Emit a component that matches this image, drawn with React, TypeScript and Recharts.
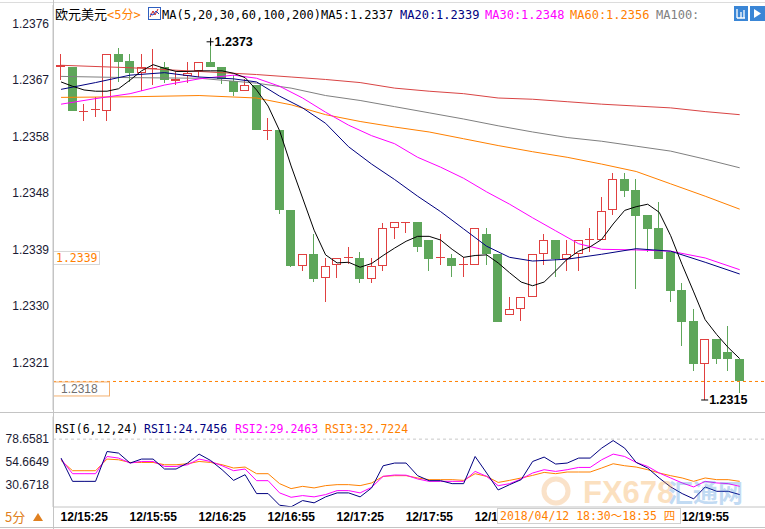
import React from "react";
import { ComposedChart, Bar, Line, XAxis, YAxis, ReferenceLine, ReferenceDot } from "recharts";

// 5-minute EUR/USD candles, 15:15 .. 20:10
const openP = [
  1.2369, 1.2369, 1.23617, 1.2362, 1.23618, 1.2371, 1.23699, 1.2368, 1.23686, 1.23689,
  1.23667, 1.23675, 1.23682, 1.23698, 1.2369, 1.23666, 1.2365, 1.2366, 1.23587, 1.23588,
  1.23457, 1.23367, 1.23387, 1.23347, 1.23369, 1.2338, 1.2338, 1.23346, 1.23367, 1.23428,
  1.23438, 1.23438, 1.23409, 1.2338, 1.2338, 1.23369, 1.23369, 1.23419, 1.23387, 1.23288,
  1.23298, 1.23317, 1.23387, 1.23409, 1.23378, 1.23387, 1.23409, 1.23409, 1.23457, 1.23508,
  1.2349, 1.2345, 1.23428, 1.23389, 1.23328, 1.23278, 1.23208, 1.23248, 1.23227, 1.23217,
];
const closeP = [
  1.23692, 1.23618, 1.23618, 1.23622, 1.2371, 1.23698, 1.23679, 1.23689, 1.23688, 1.23668,
  1.23669, 1.2368, 1.23698, 1.23689, 1.2367, 1.23649, 1.2366, 1.23587, 1.23588, 1.23457,
  1.23367, 1.23387, 1.23346, 1.23367, 1.2338, 1.23381, 1.23346, 1.23367, 1.23428, 1.23438,
  1.23439, 1.23398, 1.23378, 1.23381, 1.23367, 1.2337, 1.23428, 1.23387, 1.23277, 1.23298,
  1.23317, 1.23387, 1.23409, 1.23378, 1.23387, 1.23409, 1.2341, 1.23456, 1.23508, 1.23488,
  1.23448, 1.23427, 1.23378, 1.23327, 1.23277, 1.23208, 1.23248, 1.23217, 1.23217, 1.2318,
];
const highP = [
  1.2371, 1.2369, 1.2363, 1.2364, 1.2371, 1.2372, 1.2371, 1.2371, 1.23719, 1.23698,
  1.23681, 1.23698, 1.23698, 1.2373, 1.2369, 1.23677, 1.23669, 1.2366, 1.23606, 1.23588,
  1.23457, 1.23387, 1.23419, 1.2338, 1.2338, 1.23398, 1.23389, 1.2338, 1.23437, 1.23438,
  1.23439, 1.23438, 1.23409, 1.23419, 1.23387, 1.23381, 1.23428, 1.23428, 1.23387, 1.23317,
  1.23317, 1.23387, 1.23419, 1.23409, 1.23409, 1.23409, 1.23428, 1.23478, 1.23518, 1.23518,
  1.23508, 1.2345, 1.2347, 1.23389, 1.23339, 1.23298, 1.23248, 1.23248, 1.2327, 1.23217,
];
const lowP = [
  1.23668, 1.23618, 1.23602, 1.23609, 1.23601, 1.23665, 1.23665, 1.2365, 1.2366, 1.23663,
  1.2366, 1.23663, 1.23673, 1.23689, 1.23662, 1.23642, 1.2365, 1.23587, 1.23571, 1.23451,
  1.23366, 1.23359, 1.23341, 1.23309, 1.23347, 1.23371, 1.2334, 1.2334, 1.23359, 1.2341,
  1.2342, 1.23389, 1.23359, 1.23369, 1.23349, 1.23349, 1.23369, 1.23369, 1.23277, 1.23288,
  1.23278, 1.23317, 1.23369, 1.23349, 1.23359, 1.23359, 1.2339, 1.23409, 1.2345, 1.23479,
  1.23329, 1.23389, 1.23378, 1.23309, 1.23238, 1.23197, 1.2315, 1.23208, 1.23197, 1.23161,
];

const ma5 = [
  1.23665, 1.23658, 1.23652, 1.2365, 1.2365, 1.23654, 1.23668, 1.23683, 1.23693, 1.23687,
  1.23682, 1.23682, 1.23683, 1.23683, 1.23683, 1.23679, 1.23672, 1.23652, 1.23626, 1.23586,
  1.23529, 1.23477, 1.23425, 1.23385, 1.23372, 1.23373, 1.23365, 1.23371, 1.23384, 1.23396,
  1.23407, 1.23415, 1.23415, 1.23409, 1.23394, 1.23381, 1.23384, 1.23385, 1.23372, 1.23356,
  1.23341, 1.23335, 1.23341, 1.23359, 1.23378, 1.23391, 1.23398, 1.2341, 1.23435, 1.23457,
  1.23463, 1.23467, 1.23454, 1.23416, 1.23369, 1.23325, 1.2328, 1.23256, 1.23235, 1.23217,
];
// slower averages read at a few candles: [index, value]
const ma20Pts = [
  [0, 1.23653], [3, 1.23664], [6, 1.23676], [9, 1.2368], [12, 1.23673], [15, 1.2367], [17, 1.23665],
  [19, 1.23642], [21, 1.23623], [23, 1.23598], [25, 1.2356], [27, 1.23532], [29, 1.23507], [31, 1.2348],
  [33, 1.23455], [35, 1.23427], [37, 1.23399], [39, 1.23381], [41, 1.23375], [44, 1.23378], [47, 1.23386],
  [50, 1.23395], [53, 1.23391], [56, 1.23373], [59, 1.23354],
];
const ma30Pts = [
  [0, 1.23629], [3, 1.23638], [6, 1.23646], [9, 1.2366], [12, 1.2367], [15, 1.23676], [17, 1.23671],
  [19, 1.23658], [21, 1.23639], [23, 1.23616], [25, 1.23595], [27, 1.23578], [29, 1.23565], [31, 1.23543],
  [33, 1.23527], [35, 1.23509], [37, 1.23487], [39, 1.23467], [41, 1.23445], [43, 1.23424], [45, 1.23403],
  [47, 1.23394], [50, 1.23393], [53, 1.23391], [56, 1.2338], [59, 1.23361],
];
const ma60Pts = [
  [0, 1.2364], [6, 1.23641], [12, 1.23643], [17, 1.23639], [20, 1.23628], [23, 1.23612], [26, 1.23601],
  [29, 1.23592], [32, 1.23584], [35, 1.23573], [38, 1.23562], [41, 1.23552], [44, 1.23543], [47, 1.23532],
  [50, 1.2352], [53, 1.235], [56, 1.2348], [59, 1.23459],
];
const ma100Pts = [
  [0, 1.23674], [6, 1.23672], [12, 1.23671], [17, 1.23663], [20, 1.23655], [23, 1.23643], [26, 1.23635],
  [29, 1.23625], [32, 1.23615], [35, 1.23605], [38, 1.23594], [41, 1.23584], [44, 1.23575], [47, 1.23569],
  [50, 1.23561], [53, 1.23553], [56, 1.2354], [59, 1.23526],
];
const ma200Pts = [
  [0, 1.23692], [6, 1.23688], [12, 1.23682], [17, 1.23677], [20, 1.23673], [23, 1.23669], [26, 1.23664],
  [29, 1.23655], [32, 1.2365], [35, 1.23646], [38, 1.23639], [41, 1.23637], [44, 1.23633], [47, 1.23629],
  [50, 1.23626], [53, 1.23623], [56, 1.23617], [59, 1.23612],
];

const rsi1 = [
  58.56, 33.87, 33.87, 33.87, 65.52, 63.83, 53.28, 57.5, 57.5, 46.95,
  46.95, 53.28, 62.78, 56.03, 46.22, 34.93, 40.94, 20.9, 20.9, 8.56,
  6.87, 13.5, 11.09, 17.42, 21.64, 21.64, 17.42, 26.9, 50.4, 53.28,
  53.28, 39.9, 34.6, 34.6, 31.45, 31.45, 60.24, 42.73, 24.75, 30.4,
  35.67, 54.97, 59.61, 52.23, 53.28, 58.56, 58.56, 69.11, 77.12, 69.11,
  53.92, 48.01, 37.46, 27.97, 20.9, 15.31, 27.97, 23.33, 23.33, 19.84,
];
const rsi2 = [
  57.5, 41.99, 41.99, 41.99, 60.24, 58.56, 53.28, 54.97, 54.97, 49.69,
  49.69, 51.49, 57.5, 54.97, 50.43, 45.16, 46.95, 34.61, 34.61, 21.64,
  16.99, 18.79, 17.42, 19.84, 24.06, 24.06, 21.64, 27.54, 39.15, 40.63,
  40.41, 36.4, 33.87, 33.87, 33.87, 33.87, 44.42, 39.15, 29.25, 31.45,
  36.4, 42.73, 46.22, 44.42, 46.22, 48.64, 48.64, 56.76, 62.78, 60.24,
  53.92, 49.69, 42.73, 37.46, 32.19, 27.97, 33.87, 32.19, 31.45, 28.6,
];
const rsi3 = [
  56.03, 45.16, 45.16, 45.16, 57.5, 56.76, 53.92, 53.92, 53.92, 51.49,
  51.49, 52.54, 54.97, 53.92, 51.49, 48.01, 49.06, 41.99, 41.99, 31.45,
  26.17, 28.6, 26.91, 29.34, 30.39, 30.39, 29.34, 32.19, 39.15, 39.89,
  39.89, 37.46, 35.67, 35.67, 35.67, 34.93, 41.99, 39.15, 32.72, 34.93,
  37.46, 40.2, 43.37, 41.99, 43.79, 43.79, 43.79, 48.01, 52.54, 50.43,
  49.06, 46.22, 42.73, 39.89, 37.46, 33.87, 37.46, 35.67, 35.67, 33.87,
];

const timeTicks = [2, 8, 14, 20, 26, 32, 38, 44, 50, 56];
const timeLabels = [
  "12/15:25", "12/15:55", "12/16:25", "12/16:55", "12/17:25",
  "12/17:55", "12/18:25", "12/18:55", "12/19:25", "12/19:55",
];
// labels the hover box sits on: what is still visible of each
const coveredLabels: Record<string, string> = { "12/18:25": "12/1", "12/18:55": "", "12/19:25": "" };
const priceTicks = [1.2376, 1.23668, 1.23577, 1.23485, 1.23393, 1.23302, 1.2321];
const priceLabels = ["1.2376", "1.2367", "1.2358", "1.2348", "1.2339", "1.2330", "1.2321"];
const rsiTicks = [30.6718, 54.6649, 78.6581];

const lastPrice = 1.2318;
const crossPrice = 1.2338;
const maxMark = { i: 13, v: 1.2373, label: "1.2373" };
const minMark = { i: 56, v: 1.2315, label: "1.2315" };

const RED = "#e04040";
const GREEN = "#5ea65a";
const NAVY = "#000080";
const MAGENTA = "#ff00ff";
const ORANGE = "#ff8000";
const GRAY = "#808080";
const MA200C = "#d94444";
const AXIS = "#c4c4c4";
const MONO = "'DejaVu Sans Mono', 'Noto Sans CJK SC', monospace";
const SANS = "'Liberation Sans', Arial, sans-serif";

const spread = (pts: number[][]) => {
  const arr: (number | null)[] = openP.map(() => null);
  pts.forEach(([k, v]) => (arr[k] = v));
  return arr;
};
const ma20 = spread(ma20Pts);
const ma30 = spread(ma30Pts);
const ma60 = spread(ma60Pts);
const ma100 = spread(ma100Pts);
const ma200 = spread(ma200Pts);

const rows = openP.map((o, i) => ({
  i,
  open: o,
  close: closeP[i],
  high: highP[i],
  low: lowP[i],
  ma5: ma5[i],
  ma20: ma20[i],
  ma30: ma30[i],
  ma60: ma60[i],
  ma100: ma100[i],
  ma200: ma200[i],
  rsi1: rsi1[i],
  rsi2: rsi2[i],
  rsi3: rsi3[i],
}));

const X_DOMAIN: [number, number] = [-0.7, 61.2];

function Candle(props: any) {
  const { x, y, width, height, payload } = props;
  if (x == null || y == null || !payload) return null;
  const top = Math.min(y, y + height);
  const h = Math.abs(height);
  const { open, close, high, low } = payload;
  const span = high - low || 1e-9;
  const py = (v: number) => top + ((high - v) / span) * h;
  const left = Math.round(x);
  const w = Math.round(width);
  const cx = left + Math.floor(w / 2) + 0.5;
  const up = close >= open;
  const bTop = Math.round(py(Math.max(open, close)));
  const bBot = Math.round(py(Math.min(open, close)));
  const yH = Math.round(py(high));
  const yL = Math.round(py(low));
  const color = up ? RED : GREEN;
  if (bBot - bTop < 2) {
    return (
      <g>
        <line x1={cx} x2={cx} y1={yH} y2={yL} stroke={color} strokeWidth={1} />
        <line x1={left} x2={left + w} y1={bTop + 0.5} y2={bTop + 0.5} stroke={color} strokeWidth={1} />
      </g>
    );
  }
  return (
    <g>
      <line x1={cx} x2={cx} y1={yH} y2={bTop} stroke={color} strokeWidth={1} />
      <line x1={cx} x2={cx} y1={bBot} y2={yL} stroke={color} strokeWidth={1} />
      {up ? (
        <rect x={left + 0.5} y={bTop + 0.5} width={w - 1} height={bBot - bTop - 1} fill="#fff" stroke={color} strokeWidth={1} />
      ) : (
        <rect x={left} y={bTop} width={w} height={bBot - bTop} fill={color} />
      )}
    </g>
  );
}

const markShape = (label: string, below: boolean) => (p: any) => {
  const { cx, cy } = p;
  return (
    <g>
      <line x1={cx - 4} x2={cx + 3} y1={cy} y2={cy} stroke="#000" strokeWidth={1} />
      {!below && <line x1={cx} x2={cx} y1={cy - 4} y2={cy + 4} stroke="#000" strokeWidth={1} />}
      <text x={cx + 4} y={cy + 4.5} fontFamily={SANS} fontSize={12.5} fontWeight="bold" fill="#000">
        {label}
      </text>
    </g>
  );
};

function Header() {
  return (
    <g>
      <text x={55} y={19} fontFamily="'Noto Sans CJK SC', sans-serif" fontSize={13} fill="#000">欧元美元</text>
      <text x={107} y={19} fontFamily={MONO} fontSize={12} fill={ORANGE}>{"<5分>"}</text>
      <rect x={148.5} y={7.5} width={12} height={12} fill="#fff" stroke="#2f5fc0" />
      <polyline points="150,17 153,11 155,15 158,9" fill="none" stroke="#d02020" strokeWidth={1} />
      <polyline points="150,14 153,15 156,11 159,14" fill="none" stroke="#2040c0" strokeWidth={1} />
      <text y={19} fontFamily={MONO} fontSize={12}>
        <tspan x={162} fill="#000">MA(5,20,30,60,100,200)</tspan>
        <tspan x={321} fill="#000">MA5:1.2337</tspan>
        <tspan x={400} fill={NAVY}>MA20:1.2339</tspan>
        <tspan x={485} fill={MAGENTA}>MA30:1.2348</tspan>
        <tspan x={570} fill={ORANGE}>MA60:1.2356</tspan>
        <tspan x={656} fill={GRAY}>MA100:</tspan>
      </text>
      <rect x={734} y={6} width={14} height={15} fill="#3a86d6" />
      <path d="M737 9 v9 M737 18 h8 M741 12 v6 M744 10 v8" stroke="#fff" strokeWidth={1.3} />
      <rect x={750} y={6} width={15} height={15} fill="#3a86d6" />
      <path d="M754 9 l7 4.5 l-7 4.5 z" fill="#fff" />
    </g>
  );
}

const timeTickText = (v: number) => {
  const full = timeLabels[timeTicks.indexOf(v)] ?? "";
  return full in coveredLabels ? coveredLabels[full] : full;
};

function TimeTick(props: any) {
  const { x, y, payload } = props;
  const text = timeTickText(payload.value);
  if (!text) return null;
  const full = timeLabels[timeTicks.indexOf(payload.value)] ?? "";
  return (
    <text x={x} y={y} dy="0.71em" textAnchor="start" dx={-23.5} fontFamily={SANS} fontSize={12} fontWeight="bold" fill="#000">
      {text === full ? full : text}
    </text>
  );
}

export default function App() {
  return (
    <div style={{ position: "absolute", left: 0, top: 0, width: 765, height: 529, background: "#fff", overflow: "hidden" }}>
      <div style={{ position: "absolute", left: 0, top: 0 }}>
        <ComposedChart width={765} height={413} data={rows} margin={{ top: 5, right: 0, bottom: 3, left: 0 }}>
          <XAxis dataKey="i" type="number" domain={X_DOMAIN} allowDataOverflow hide />
          <YAxis
            type="number"
            domain={[1.231338, 1.237896]}
            allowDataOverflow
            ticks={priceTicks}
            interval={0}
            width={53}
            axisLine={{ stroke: AXIS }}
            tickLine={false}
            tickSize={0}
            tickMargin={4}
            tick={{ fontFamily: SANS, fontSize: 12, fill: "#1a1a33" }}
            tickFormatter={(v: number) => priceLabels[priceTicks.indexOf(v)] ?? ""}
          />
          <ReferenceLine y={lastPrice} stroke={ORANGE} strokeDasharray="3 3" />
          <Bar
            dataKey={(d: any) => [d.low, d.high]}
            barSize={9}
            isAnimationActive={false}
            shape={(p: any) => <Candle {...p} />}
          />
          <Line dataKey="ma200" stroke={MA200C} dot={false} strokeWidth={1} connectNulls isAnimationActive={false} />
          <Line dataKey="ma100" stroke={GRAY} dot={false} strokeWidth={1} connectNulls isAnimationActive={false} />
          <Line dataKey="ma60" stroke={ORANGE} dot={false} strokeWidth={1} connectNulls isAnimationActive={false} />
          <Line dataKey="ma30" stroke={MAGENTA} dot={false} strokeWidth={1} connectNulls isAnimationActive={false} />
          <Line dataKey="ma20" stroke={NAVY} dot={false} strokeWidth={1} connectNulls isAnimationActive={false} />
          <Line dataKey="ma5" stroke="#000" dot={false} strokeWidth={1} connectNulls isAnimationActive={false} />
          <ReferenceDot x={maxMark.i} y={maxMark.v} r={0} shape={markShape(maxMark.label, false)} />
          <ReferenceDot x={minMark.i} y={minMark.v} r={0} shape={markShape(minMark.label, true)} />
          <ReferenceDot
            x={-0.7}
            y={crossPrice}
            r={0}
            shape={(p: any) => (
              <g>
                <rect x={p.cx + 0.5} y={p.cy - 6.5} width={46} height={13} fill="#fff" stroke="#d6d6d6" />
                <text x={p.cx + 3} y={p.cy + 4} fontFamily={MONO} fontSize={11.5} fill={ORANGE}>1.2339</text>
              </g>
            )}
          />
          <ReferenceDot
            x={-0.7}
            y={lastPrice}
            r={0}
            shape={(p: any) => (
              <g>
                <rect x={p.cx + 0.5} y={p.cy + 0.5} width={56} height={14} fill="#fff" stroke="#f3b070" />
                <text x={p.cx + 8} y={p.cy + 12} fontFamily={SANS} fontSize={12} fill="#707070">1.2318</text>
              </g>
            )}
          />
        </ComposedChart>
      </div>

      <div style={{ position: "absolute", left: 0, top: 413 }}>
        <ComposedChart width={765} height={114} data={rows} margin={{ top: 3.5, right: 0, bottom: 0, left: 0 }}>
          <XAxis
            dataKey="i"
            type="number"
            domain={X_DOMAIN}
            allowDataOverflow
            ticks={timeTicks}
            interval={0}
            height={20}
            axisLine={{ stroke: AXIS }}
            tickLine={false}
            tickSize={0}
            tickMargin={5}
            tick={(p: any) => <TimeTick {...p} />}
          />
          <YAxis
            type="number"
            domain={[6.6787, 102.6513]}
            allowDataOverflow
            ticks={rsiTicks}
            interval={0}
            width={53}
            axisLine={{ stroke: AXIS }}
            tickLine={false}
            tickSize={0}
            tickMargin={4}
            tick={{ fontFamily: SANS, fontSize: 12, fill: "#1a1a33" }}
            tickFormatter={(v: number) => v.toFixed(4)}
          />
          <ReferenceLine y={rsiTicks[2]} stroke="#c8c8c8" strokeDasharray="3 3" />
          <Line dataKey="rsi3" stroke={ORANGE} dot={false} strokeWidth={1} isAnimationActive={false} />
          <Line dataKey="rsi2" stroke={MAGENTA} dot={false} strokeWidth={1} isAnimationActive={false} />
          <Line dataKey="rsi1" stroke={NAVY} dot={false} strokeWidth={1} isAnimationActive={false} />
        </ComposedChart>
      </div>

      <svg width={765} height={529} style={{ position: "absolute", left: 0, top: 0, pointerEvents: "none" }}>
        <line x1={0} x2={765} y1={2.5} y2={2.5} stroke="#dcdcdc" />
        <line x1={53.5} x2={53.5} y1={0} y2={529} stroke={AXIS} />
        <line x1={0} x2={765} y1={412.5} y2={412.5} stroke={AXIS} />
        <line x1={0} x2={765} y1={527.5} y2={527.5} stroke={AXIS} />
        <Header />
        <text y={433} fontFamily={MONO} fontSize={11.5}>
          <tspan x={55} fill="#000">RSI(6,12,24)</tspan>
          <tspan x={144} fill={NAVY}>RSI1:24.7456</tspan>
          <tspan x={235} fill={MAGENTA}>RSI2:29.2463</tspan>
          <tspan x={325} fill={ORANGE}>RSI3:32.7224</tspan>
        </text>
        <text x={5} y={522} fontFamily="'Noto Sans CJK SC', sans-serif" fontSize={13} fill="#e08020">5分</text>
        <path d="M33 521 l5 -8 l5 8 z" fill="#e08020" />
        <g opacity={0.3}>
          <circle cx={556} cy={491} r={12} fill="none" stroke="#f0a050" strokeWidth={5} />
          <text x={583} y={503} fontFamily={SANS} fontSize={31} fontWeight="bold" fill="#f59a30">FX678</text>
          <text x={668} y={502} fontFamily="'Noto Sans CJK SC', sans-serif" fontSize={25} fontWeight="bold" fill="#3a8ad8">汇通网</text>
        </g>
        <rect x={497.5} y={508.5} width={183} height={15} fill="#fff" stroke="#d0d0d0" />
        <text x={500} y={520} fontFamily={MONO} fontSize={11.5} fill={ORANGE}>
          2018/04/12 18:30～18:35 四
        </text>
      </svg>
    </div>
  );
}
